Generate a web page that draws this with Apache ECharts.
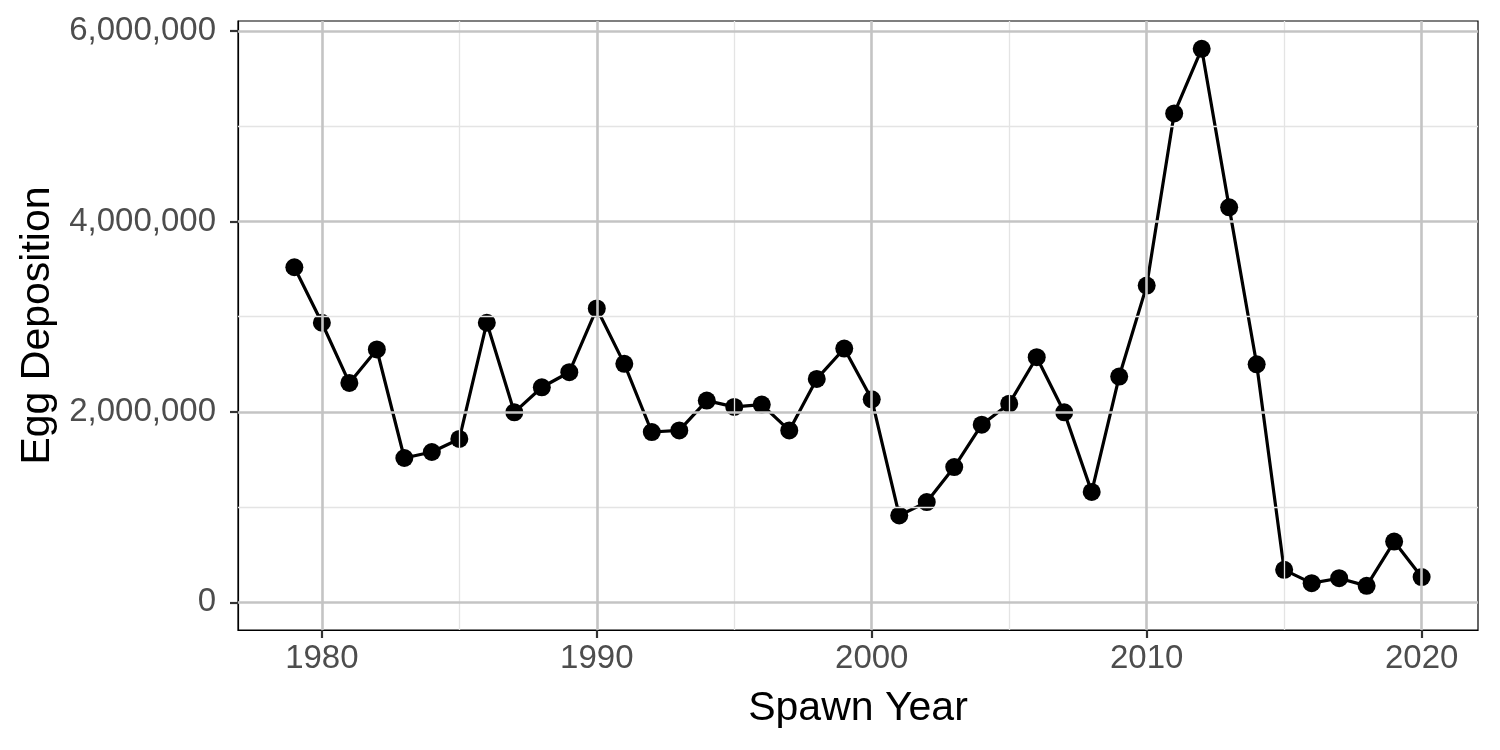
<!DOCTYPE html>
<html>
<head>
<meta charset="utf-8">
<script src="https://cdn.jsdelivr.net/npm/echarts@6/dist/echarts.min.js"></script>
<style>
html,body{margin:0;padding:0;background:#fff;}
#chart{width:1500px;height:750px;}
</style>
</head>
<body>
<div id="chart"></div>
<script>
const years = [1979,1980,1981,1982,1983,1984,1985,1986,1987,1988,1989,1990,1991,1992,1993,1994,1995,1996,1997,1998,1999,2000,2001,2002,2003,2004,2005,2006,2007,2008,2009,2010,2011,2012,2013,2014,2015,2016,2017,2018,2019,2020];
const eggDeposition = [3520000,2937000,2305000,2656000,1516000,1579000,1716000,2937000,1996000,2259000,2417000,3087000,2505000,1789000,1806000,2119000,2053000,2077000,1806000,2347000,2666000,2133000,912000,1053000,1421000,1866000,2087000,2575000,1996000,1160000,2372000,3327000,5136000,5815000,4149000,2500000,341000,201000,253000,173000,638000,265000];
const xMajorTicks = [1980,1990,2000,2010,2020];
const xMinorTicks = [1985,1995,2005,2015];
const yMajorTicks = [0,2000000,4000000,6000000];
const yMinorTicks = [1000000,3000000,5000000];
const xTitle = 'Spawn Year';
const yTitle = 'Egg Deposition';

const FONT = '"Liberation Sans", Arial, sans-serif';
const majorStyle = {color:'#c4c4c4', width:2.6, type:'solid'};
const minorStyle = {color:'#e4e4e4', width:1.3, type:'solid'};

const gridLines = []
  .concat(xMinorTicks.map(v => ({xAxis:v, lineStyle:minorStyle})))
  .concat(yMinorTicks.map(v => ({yAxis:v, lineStyle:minorStyle})))
  .concat(xMajorTicks.map(v => ({xAxis:v, lineStyle:majorStyle})))
  .concat(yMajorTicks.map(v => ({yAxis:v, lineStyle:majorStyle})));

const chart = echarts.init(document.getElementById('chart'), null, {renderer:'canvas'});
chart.setOption({
  animation:false,
  backgroundColor:'#ffffff',
  grid:{left:238, right:22, top:21, bottom:120, show:true, borderColor:'#000', borderWidth:1.2, backgroundColor:'#fff', outerBoundsMode:'none'},
  xAxis:{
    type:'value', min:1976.95, max:2022.05,
    name:xTitle, nameLocation:'middle', nameGap:58,
    nameTextStyle:{fontFamily:FONT, fontSize:41, color:'#000'},
    axisLine:{show:true, onZero:false, lineStyle:{color:'#000', width:1.2}},
    axisTick:{show:true, length:8, lineStyle:{color:'#333', width:2.2}, customValues:xMajorTicks},
    axisLabel:{fontFamily:FONT, fontSize:33, color:'#4d4d4d', margin:12, customValues:xMajorTicks,
      formatter: v => String(v)},
    splitLine:{show:false}
  },
  yAxis:{
    type:'value', min:-291000, max:6107000,
    name:yTitle, nameLocation:'middle', nameGap:180, nameRotate:90,
    nameTextStyle:{fontFamily:FONT, fontSize:41, color:'#000'},
    axisLine:{show:true, onZero:false, lineStyle:{color:'#000', width:1.2}},
    axisTick:{show:true, length:8, lineStyle:{color:'#333', width:2.2}, customValues:yMajorTicks},
    axisLabel:{fontFamily:FONT, fontSize:33, color:'#4d4d4d', margin:22, customValues:yMajorTicks,
      formatter: v => Number(v).toLocaleString('en-US')},
    splitLine:{show:false}
  },
  series:[
    {
      type:'line', data:[], z:1, silent:true,
      markLine:{silent:true, symbol:['none','none'], label:{show:false}, animation:false, data:gridLines}
    },
    {
      type:'line', z:3,
      data: years.map((y,i) => [y, eggDeposition[i]]),
      symbol:'circle', symbolSize:18,
      lineStyle:{color:'#000', width:3.2},
      itemStyle:{color:'#000'}
    }
  ]
});
</script>
</body>
</html>
